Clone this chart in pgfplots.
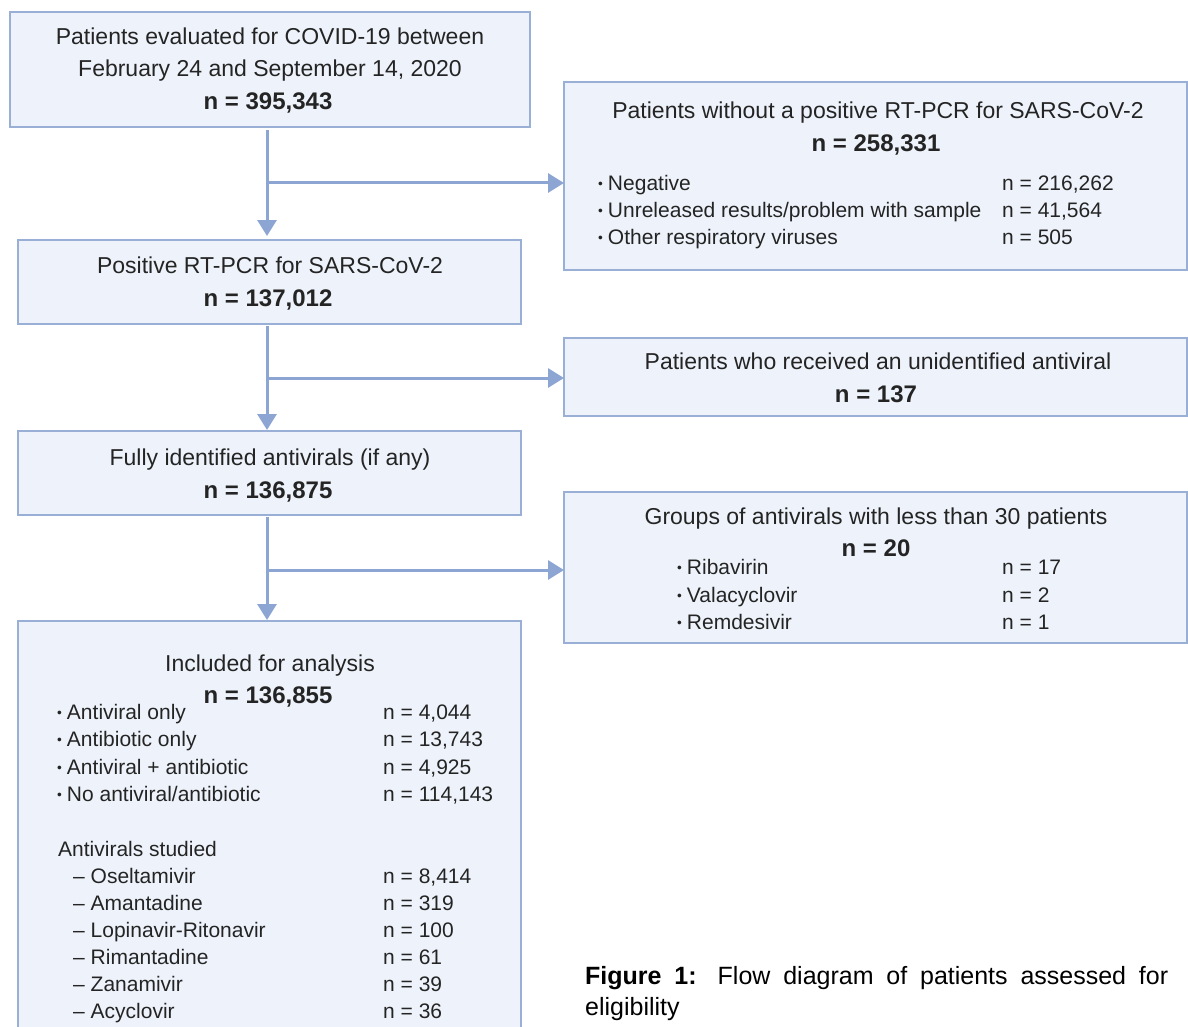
\documentclass[border=0pt]{standalone}
\usepackage{pgfplots}
\pgfplotsset{compat=1.18}
\usepackage{fontspec}
\setmainfont{Liberation Sans}
\usetikzlibrary{arrows.meta}
\definecolor{boxfill}{HTML}{EEF3FB}
\definecolor{boxline}{HTML}{9AAFD6}
\definecolor{arrowc}{HTML}{8DA5D3}
\definecolor{txt}{HTML}{242424}
\newcommand{\bul}{\raisebox{1.5pt}{\scalebox{0.65}{•}}\hspace{5pt}}

\begin{document}
\begin{tikzpicture}
\begin{axis}[
    width=1188pt, height=1027pt, scale only axis,
    xmin=0, xmax=1188, ymin=0, ymax=1027,
    y dir=reverse, hide axis, clip=false,
  ]
  \fill[white] (0,0) rectangle (1188,1027);

  % boxes
  \tikzset{bx/.style={draw=boxline, fill=boxfill, line width=2pt}}
  \draw[bx] (10,12) rectangle (530,127);
  \draw[bx] (564,82) rectangle (1187,270);
  \draw[bx] (18,240) rectangle (521,324);
  \draw[bx] (564,338) rectangle (1187,416);
  \draw[bx] (18,431) rectangle (521,515);
  \draw[bx] (564,492) rectangle (1187,643);
  \fill[boxfill] (18,621) rectangle (521,1027);
  \draw[boxline, line width=2pt] (18,1027) -- (18,621) -- (521,621) -- (521,1027);

  % arrows
  \tikzset{ar/.style={arrowc, line width=3pt, -{Triangle[length=16pt,width=19pt]}}}
  \draw[ar] (267,130) -- (267,236);
  \draw[ar] (267,183) -- (564,183);
  \draw[ar] (267,326) -- (267,430);
  \draw[ar] (267,378) -- (564,378);
  \draw[ar] (267,517) -- (267,620);
  \draw[ar] (267,570) -- (564,570);

  \tikzset{
    t/.style={anchor=base, text=txt, font=\fontsize{23}{28}\selectfont, inner sep=0pt},
    nb/.style={anchor=base, text=txt, font=\fontsize{24}{28}\selectfont\bfseries, inner sep=0pt},
    l/.style={anchor=base west, text=txt, font=\fontsize{21}{26}\selectfont, inner sep=0pt},
  }

  % box 1
  \node[t] at (270,45) {Patients evaluated for COVID-19 between};
  \node[t] at (270,77) {February 24 and September 14, 2020};
  \node[nb] at (268,110) {n = 395,343};

  % box 2
  \node[t] at (878,119) {Patients without a positive RT-PCR for SARS-CoV-2};
  \node[nb] at (876,152) {n = 258,331};
  \node[l] at (598,190) {\bul Negative};
  \node[l] at (598,217) {\bul Unreleased results/problem with sample};
  \node[l] at (598,244) {\bul Other respiratory viruses};
  \node[l] at (1002,190) {n = 216,262};
  \node[l] at (1002,217) {n = 41,564};
  \node[l] at (1002,244) {n = 505};

  % box 3
  \node[t] at (270,273) {Positive RT-PCR for SARS-CoV-2};
  \node[nb] at (268,306) {n = 137,012};

  % box 4
  \node[t] at (878,369) {Patients who received an unidentified antiviral};
  \node[nb] at (876,402) {n = 137};

  % box 5
  \node[t] at (270,465) {Fully identified antivirals (if any)};
  \node[nb] at (268,498) {n = 136,875};

  % box 6
  \node[t] at (876,524) {Groups of antivirals with less than 30 patients};
  \node[nb] at (876,556) {n = 20};
  \node[l] at (677,574) {\bul Ribavirin};
  \node[l] at (677,602) {\bul Valacyclovir};
  \node[l] at (677,629) {\bul Remdesivir};
  \node[l] at (1002,574) {n = 17};
  \node[l] at (1002,602) {n = 2};
  \node[l] at (1002,629) {n = 1};

  % box 7
  \node[t] at (270,671) {Included for analysis};
  \node[nb] at (268,703) {n = 136,855};
  \node[l] at (57,719) {\bul Antiviral only};
  \node[l] at (57,746) {\bul Antibiotic only};
  \node[l] at (57,774) {\bul Antiviral + antibiotic};
  \node[l] at (57,801) {\bul No antiviral/antibiotic};
  \node[l] at (383,719) {n = 4,044};
  \node[l] at (383,746) {n = 13,743};
  \node[l] at (383,774) {n = 4,925};
  \node[l] at (383,801) {n = 114,143};
  \node[l] at (58,856) {Antivirals studied};
  \node[l] at (73,883) {– Oseltamivir};
  \node[l] at (73,910) {– Amantadine};
  \node[l] at (73,937) {– Lopinavir-Ritonavir};
  \node[l] at (73,964) {– Rimantadine};
  \node[l] at (73,991) {– Zanamivir};
  \node[l] at (73,1018) {– Acyclovir};
  \node[l] at (383,883) {n = 8,414};
  \node[l] at (383,910) {n = 319};
  \node[l] at (383,937) {n = 100};
  \node[l] at (383,964) {n = 61};
  \node[l] at (383,991) {n = 39};
  \node[l] at (383,1018) {n = 36};

  % caption
  \node[anchor=base west, inner sep=0pt, text=black] at (585,984)
    {\begin{minipage}[t]{583pt}\fontsize{25}{31}\selectfont
     \textbf{Figure 1:} Flow diagram of patients assessed for \mbox{eligibility}\end{minipage}};
\end{axis}
\pgfresetboundingbox
\path (current axis.south west) rectangle (current axis.north east);
\end{tikzpicture}
\end{document}
